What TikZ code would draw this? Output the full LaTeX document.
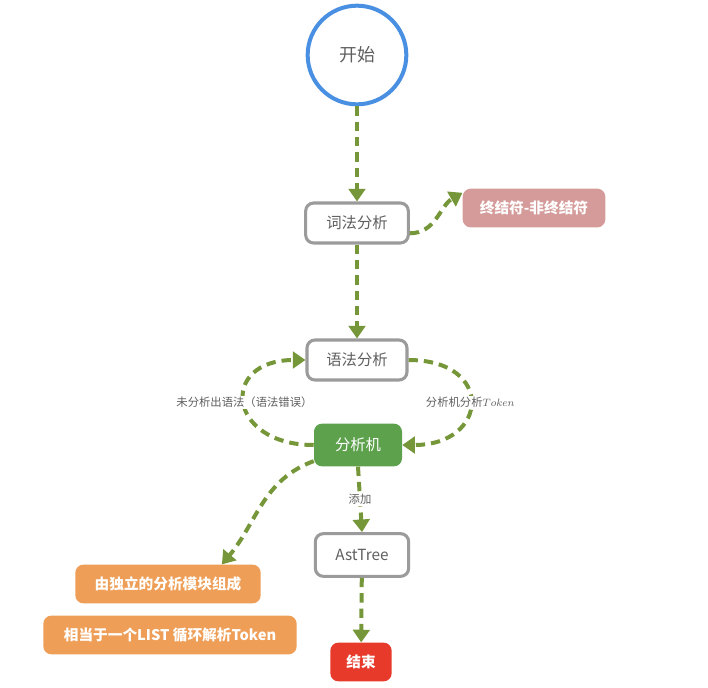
\documentclass[tikz,border=0pt]{standalone}
\usepackage{fontspec}
\setmainfont{Noto Sans CJK SC}
\usetikzlibrary{arrows.meta}

\definecolor{startblue}{HTML}{4A90E2}
\definecolor{boxgray}{HTML}{9B9B9B}
\definecolor{txtgray}{HTML}{5F5F5F}
\definecolor{flowgreen}{HTML}{76963A}
\definecolor{termpink}{HTML}{D49B9A}
\definecolor{parsegreen}{HTML}{5DA14D}
\definecolor{modorange}{HTML}{EE9E56}
\definecolor{endred}{HTML}{E73A2B}

\begin{document}
\begin{tikzpicture}[
    x=0.75pt, y=0.75pt,
    startnode/.style={draw=startblue, circle, line width=3pt,
                      minimum size=74pt, inner sep=0pt,
                      font=\fontsize{13.5}{16}\selectfont, text=txtgray},
    stage/.style={draw=boxgray, rectangle, rounded corners=6pt, line width=2.3pt,
                  fill=white, minimum height=30pt, inner sep=0pt,
                  font=\fontsize{11.5}{14}\selectfont, text=txtgray},
    note/.style={rectangle, rounded corners=6pt, minimum height=29pt, inner sep=0pt,
                 text=white, font=\fontsize{11}{13}\selectfont\bfseries},
    flow/.style={draw=flowgreen, line width=3pt, dash pattern=on 7pt off 4.5pt,
                 -{Triangle[width=12.5pt,length=9.5pt]}},
    lbl/.style={font=\fontsize{8.5}{10}\selectfont, text=txtgray, fill=white,
                inner sep=1pt, midway}
]
\useasboundingbox (0,0) rectangle (708,-687);

% Noduri
\node[startnode] (start)  at (357,-55)  {开始};
\node[stage, minimum width=77pt] (lexer)   at (357,-223) {词法分析};
\node[note, fill=termpink, minimum width=107pt] (term) at (534,-208) {终结符-非终结符};
\node[stage, minimum width=75pt] (syntax)  at (357,-360) {语法分析};
\node[note, fill=parsegreen, minimum width=66pt, minimum height=32pt,
      font=\fontsize{11.5}{14}\selectfont] (parser) at (358,-445) {分析机};
\node[stage, minimum width=70pt, minimum height=32pt] (ast) at (362,-555) {AstTree};
\node[note, fill=endred, minimum width=46pt] (finish) at (361,-662) {结束};
\node[note, fill=modorange, minimum width=139pt] (modules) at (168,-584) {由独立的分析模块组成};
\node[note, fill=modorange, minimum width=190pt] (tokens)  at (170,-635) {相当于一个LIST 循环解析Token};

% start -> lexer
\draw[flow] (start) -- (lexer);

% lexer -> term
\draw[flow] (lexer.349) to[out=0, in=210] (term.168);

% lexer -> syntax
\draw[flow] (lexer) -- (syntax);

% parser -> syntax (error loop)
\draw[flow] (parser.west) to[out=180, in=180, looseness=2.6]
    node[lbl]{未分析出语法（语法错误）} (syntax.west);

% syntax -> parser
\draw[flow] (syntax.east) to[out=0, in=0, looseness=2.6]
    node[lbl]{分析机分析$Token$} (parser.east);

% parser -> ast
\draw[flow] (parser.south) -- node[lbl]{添加} (ast.north);

% parser -> modules
\draw[flow] (parser.200) to[out=200, in=50] (modules.20);

% ast -> finish
\draw[flow] (ast) -- (finish);

\end{tikzpicture}
\end{document}
